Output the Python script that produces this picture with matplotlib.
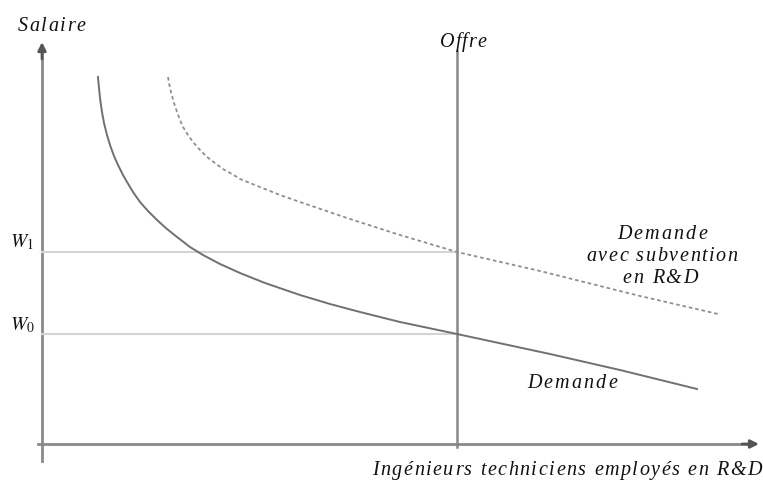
import matplotlib
matplotlib.use('Agg')
import matplotlib.pyplot as plt
from matplotlib.font_manager import FontProperties, findfont, get_font

# Diagram units: x = employment, y = wage (arbitrary units, origin bottom left)
H = 481
DPI = 100

demand_x = [98, 99, 100, 102, 104, 107, 110, 114, 118, 123, 127, 133, 140, 148, 157, 167,
            177, 190, 203, 220, 240, 265, 300, 330, 360, 400, 457, 550, 620, 697]
demand_y = [H - v for v in [78, 89, 99, 113, 124, 136, 146, 157, 166, 176, 183, 193, 203,
                            212, 221, 230, 238, 248, 256, 265, 274, 284, 296, 305, 313, 323,
                            335, 355, 371, 390]]

subsidy_x = [168, 169, 170, 172, 174, 177, 180, 183, 188, 193, 200, 207, 215, 223, 232, 240,
             250, 260, 280, 300, 350, 400, 457, 540, 640, 718]
subsidy_y = [H - v for v in [78, 84, 89, 97, 104, 113, 121, 128, 136, 143, 151, 158, 164,
                             170, 175, 180, 184, 188, 196, 203, 220, 236, 253, 272, 297, 315]]

offre_x = 457
w1 = H - 253
w0 = H - 335
origin_x = 42
origin_y = H - 445

plt.rcParams['mathtext.fontset'] = 'stix'

fig = plt.figure(figsize=(7.63, 4.81), dpi=DPI)
ax = fig.add_axes([0, 0, 1, 1])
ax.set_xlim(0, 763)
ax.set_ylim(0, H)
ax.axis('off')


def spaced_text(s, x, baseline, width, ha='left', size=14.5):
    """Draw italic serif text with letter spacing so it spans `width` pixels."""
    fp = FontProperties(family='Liberation Serif', style='italic', size=size)
    ft = get_font(findfont(fp))
    ft.set_size(size, DPI)
    adv = [ft.load_char(ord(c)).linearHoriAdvance / 65536 for c in s]
    track = (width - sum(adv)) / max(len(s) - 1, 1)
    if ha == 'center':
        x = x - width / 2
    elif ha == 'right':
        x = x - width
    for c, a in zip(s, adv):
        if c != ' ':
            ax.text(x, H - baseline, c, ha='left', va='baseline', fontproperties=fp,
                    color='#111111')
        x += a + track


# axes with arrows
ax.plot([origin_x, origin_x], [H - 462, H - 50], color='#8a8a8a', lw=2)
ax.plot([38, 752], [origin_y, origin_y], color='#8a8a8a', lw=2)
ax.annotate('', xy=(origin_x, H - 43), xytext=(origin_x, H - 60),
            arrowprops=dict(arrowstyle='-|>', color='#555555', lw=2, mutation_scale=12,
                            shrinkA=0, shrinkB=0))
ax.annotate('', xy=(759, origin_y), xytext=(742, origin_y),
            arrowprops=dict(arrowstyle='-|>', color='#555555', lw=2, mutation_scale=12,
                            shrinkA=0, shrinkB=0))

# wage levels
ax.plot([origin_x, offre_x], [w1, w1], color='#d4d4d4', lw=1.5)
ax.plot([origin_x, offre_x], [w0, w0], color='#d4d4d4', lw=1.5)

# supply
ax.plot([offre_x, offre_x], [origin_y - 3, H - 52], color='#888888', lw=1.8)

# demand curves
ax.plot(demand_x, demand_y, color='#707070', lw=1.4)
ax.plot(subsidy_x, subsidy_y, color='#8f8f8f', lw=1.3, dashes=(2.0, 1.6))

spaced_text('Salaire', 18, 31, 67)
spaced_text('Offre', 440, 47, 46)
ax.text(22, w1 + 11, r'$W_\mathit{1}$', ha='center', va='center', fontsize=14, color='#111111')
ax.text(22, w0 + 10, r'$W_\mathit{0}$', ha='center', va='center', fontsize=14, color='#111111')
spaced_text('Demande', 662, 239, 90, ha='center')
spaced_text('avec subvention', 662, 261, 151, ha='center')
spaced_text('en R&D', 660, 283, 75, ha='center')
spaced_text('Demande', 527, 388, 90)
spaced_text('Ingénieurs techniciens employés en R&D', 372, 475, 390)

fig.savefig('out.png', dpi=DPI)
